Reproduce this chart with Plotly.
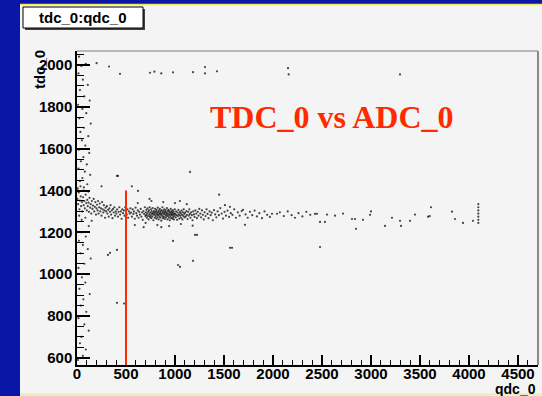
import plotly.graph_objects as go

# ---------------- data ----------------
# (qdc_0, tdc_0) pairs, grouped by region of the scatter
left_column = [(20,2040),(45,1995),(90,2005),(15,1960),(60,1930),(110,1905),(30,1880),(75,1850),
    (130,1830),(10,1810),(55,1790),(95,1770),(25,1745),(140,1720),(70,1700),(35,1680),(115,1660),
    (50,1640),(85,1615),(20,1595),(125,1580),(65,1560),(40,1540),(100,1525),(15,1505),(80,1490),
    (135,1475),(55,1460),(30,1445),(105,1430),(70,1415),(10,1400),(120,1230),(45,1200),(90,1180),
    (20,1160),(60,1140),(110,1120),(35,1100),(140,1075),(75,1050),(15,1030),(100,1000),(50,985),
    (85,960),(25,930),(130,905),(65,880),(40,850),(95,820),(15,790),(75,760),(120,730),(45,700),
    (30,670),(90,640),(60,610),(10,590)]

band_left = [(5,1360),(12,1335),(18,1390),(25,1310),(30,1352),(38,1372),(42,1325),(50,1345),
    (55,1300),(62,1368),(68,1330),(75,1350),(80,1315),(88,1380),(95,1340),(100,1305),
    (105,1355),(110,1325),(118,1342),(122,1298),(128,1365),(135,1318),(140,1335),(146,1290),
    (152,1350),(158,1312),(163,1328),(170,1360),(176,1300),(182,1322),(188,1345),(194,1285),(199,1315),
    (204,1332),(210,1305),(215,1350),(220,1290),(226,1320),(232,1338),(238,1300),(244,1315),
    (250,1280),(256,1345),(262,1310),(268,1295),(274,1330),(280,1305),(286,1270),(292,1318),(298,1300),
    (305,1325),(310,1290),(318,1308),(324,1275),(330,1315),(336,1298),(342,1330),(348,1285),
    (355,1305),(362,1268),(368,1312),(375,1295),(382,1320),(388,1280),(395,1300),
    (402,1290),(410,1310),(418,1275),(425,1298),(432,1320),(440,1285),(448,1300),(455,1265),
    (462,1310),(470,1292),(478,1305),(485,1280),(492,1320),(500,1295),(508,1285),(515,1310),
    (522,1270),(530,1300),(538,1290),(545,1315),
    (8,1410),(22,1280),(35,1420),(48,1260),(66,1400),(85,1270),(115,1395),(150,1255)]

cluster = [(552,1295),(560,1275),(568,1310),(575,1288),(582,1300),(590,1265),(598,1318),(605,1292),
    (612,1280),(620,1305),(628,1270),(635,1298),(642,1285),(650,1312),(657,1275),(664,1295),
    (671,1260),(678,1302),(685,1288),(692,1320),(698,1278),
    (702,1296),(705,1282),(709,1308),(712,1270),(716,1290),(720,1315),(723,1278),(727,1298),
    (730,1262),(734,1305),(737,1286),(741,1320),(744,1274),(748,1294),(751,1280),(755,1310),
    (758,1268),(762,1300),(765,1288),(769,1276),(772,1316),(776,1292),(779,1258),(783,1302),
    (786,1284),(790,1296),(793,1270),(797,1312),
    (800,1290),(803,1278),(806,1300),(809,1266),(812,1308),(815,1286),(818,1294),(821,1272),
    (824,1318),(827,1282),(830,1298),(833,1262),(836,1304),(839,1288),(842,1276),(845,1312),
    (848,1292),(851,1270),(854,1300),(857,1284),(860,1256),(863,1306),(866,1290),(869,1278),
    (872,1320),(875,1296),(878,1268),(881,1302),(884,1286),(887,1274),(890,1310),(893,1292),
    (896,1264),(899,1298),
    (902,1284),(905,1306),(908,1272),(911,1294),(914,1280),(917,1316),(920,1288),(923,1262),
    (926,1300),(929,1278),(932,1308),(935,1290),(938,1270),(941,1302),(944,1284),(947,1258),
    (950,1296),(953,1276),(956,1312),(959,1288),(962,1268),(965,1300),(968,1282),(971,1294),
    (974,1266),(977,1306),(980,1286),(983,1274),(986,1298),(989,1262),(992,1290),(995,1280),(998,1310),
    (1003,1288),(1008,1272),(1012,1300),(1017,1282),(1021,1260),(1026,1295),(1030,1278),(1035,1308),
    (1040,1286),(1044,1266),(1049,1298),(1053,1280),(1058,1292),(1062,1270),(1067,1304),(1071,1284),
    (1076,1262),(1080,1296),(1085,1278),(1089,1310),(1094,1288),(1098,1272),
    (1104,1294),(1110,1276),(1116,1302),(1122,1284),(1128,1264),(1134,1298),(1140,1280),(1146,1310),
    (1152,1288),(1158,1270),(1165,1296),(1172,1282),(1179,1258),(1186,1300),(1193,1286),(1200,1274),
    (1208,1305),(1216,1290),(1224,1268),(1232,1298),(1240,1280),(1248,1312),
    (620,1340),(700,1245),(760,1350),(820,1235),(880,1345),(940,1230),(1000,1340),(1060,1240),
    (1120,1335),(1180,1232),(680,1225),(860,1225),(1050,1350),(590,1235),(740,1360)]

band_mid = [(1258,1290),(1266,1272),(1275,1305),(1284,1284),(1293,1262),(1302,1296),(1312,1278),
    (1322,1310),(1332,1288),(1342,1268),(1353,1300),(1364,1282),(1375,1294),(1386,1258),(1398,1306),
    (1410,1286),(1422,1272),(1435,1300),(1448,1282),(1462,1316),(1476,1290),(1490,1266),(1505,1298),
    (1510,1330),(1520,1280),(1536,1304),(1552,1274),(1561,1322),(1569,1292),(1586,1284),(1604,1310),
    (1622,1270),(1641,1296),(1660,1280),(1680,1302),(1694,1308),(1714,1236),(1720,1286),(1742,1270),
    (1765,1298),(1788,1282),(1812,1304),(1836,1276),(1861,1292),(1887,1268),(1913,1300),(1940,1284),
    (1968,1274),(1990,1289),(2041,1289),(2070,1296),(2110,1278),(2150,1300),(2190,1282),(2224,1270),
    (2260,1292),(2300,1276),(2340,1298),(2380,1284),(2449,1289)]

band_right = [(2429,1288),(2480,1250),(2530,1250),(2551,1285),(2633,1280),(2714,1290),(2806,1264),
    (2837,1264),(2847,1217),(2918,1260),(2990,1284),(3000,1300),(3143,1231),(3214,1270),(3296,1255),
    (3306,1231),(3398,1255),(3449,1285),(3582,1275),(3600,1278),(3612,1320),(3827,1299),(3857,1264),
    (3939,1245),(4041,1255),
    (4095,1245),(4095,1260),(4095,1275),(4095,1290),(4095,1305),(4095,1320),(4095,1335)]

top_row = [(200,2009),(327,1993),(439,1958),(745,1963),(790,1968),(860,1960),(980,1965),(1184,1966),
    (1306,1960),(1306,1990),(1428,1970),(2153,1985),(2160,1955),(3296,1955)]

outliers = [(408,1470),(418,1470),(622,1398),(1153,1489),(1204,1188),(980,1159),(1582,1126),
    (1184,1064),(1051,1035),(1031,1044),(316,1092),(408,1116),(337,1102),(408,863),(480,860),
    (1561,1126),(1224,1188),(2480,1130),(560,1420),(250,1420),(1450,1380)]

cut_qdc = 500          # red cut line position
cut_tdc_top = 1400     # red cut line top

x_range = [0, 4704]
y_range = [566, 2067]

# ---------------- figure ----------------
W, H = 542, 396
L, R, T, B = 77, 538, 51, 365
PW, PH = R - L, B - T

def px(x):
    return (x - L) / PW

def py(y):
    return (B - y) / PH

pts = left_column + band_left + cluster + band_mid + band_right + top_row + outliers
qdc = [p[0] for p in pts]
tdc = [p[1] for p in pts]

BLUE = "#0a16a6"
PANEL = "#f4f4f4"
RED = "#ff2a00"

fig = go.Figure()
fig.add_trace(go.Scatter(x=qdc, y=tdc, mode="markers",
                         marker=dict(size=2.2, color="rgba(10,10,10,0.75)", line=dict(width=0)),
                         hoverinfo="x+y", showlegend=False))

shapes = [
    # light panel
    dict(type="rect", xref="paper", yref="paper", x0=px(20), x1=px(542), y0=py(396), y1=py(5),
         fillcolor=PANEL, line=dict(width=0), layer="below"),
    # yellow border lines
    dict(type="line", xref="paper", yref="paper", x0=px(20), x1=px(542), y0=py(4.5), y1=py(4.5),
         line=dict(color="#f0e860", width=1.5)),
    dict(type="line", xref="paper", yref="paper", x0=px(20), x1=px(542), y0=py(394.5), y1=py(394.5),
         line=dict(color="#e6eab8", width=2)),
    # top and right frame
    dict(type="line", xref="paper", yref="paper", x0=0, x1=1, y0=1, y1=1,
         line=dict(color="#b8b8b8", width=2)),
    dict(type="line", xref="paper", yref="paper", x0=1, x1=1, y0=0, y1=1,
         line=dict(color="#8a8a8a", width=2)),
    # title box shadow and box
    dict(type="rect", xref="paper", yref="paper", x0=px(25), x1=px(145), y0=py(30), y1=py(9),
         fillcolor="#404040", line=dict(width=0)),
    dict(type="rect", xref="paper", yref="paper", x0=px(23), x1=px(143), y0=py(28), y1=py(7),
         fillcolor="white", line=dict(color="black", width=1)),
    # red cut line
    dict(type="line", xref="x", yref="y", x0=cut_qdc, x1=cut_qdc, y0=y_range[0], y1=cut_tdc_top,
         line=dict(color=RED, width=2)),
]

bold = dict(family="Liberation Sans", size=15, color="black", weight="bold")

annotations = [
    dict(text="tdc_0:qdc_0", xref="paper", yref="paper", x=px(83), y=py(17.5),
         showarrow=False, font=bold, xanchor="center", yanchor="middle"),
    dict(text="tdc_0", xref="paper", yref="paper", x=px(39), y=py(70), textangle=-90,
         showarrow=False, font=bold, xanchor="center", yanchor="middle"),
    dict(text="qdc_0", xref="paper", yref="paper", x=px(538), y=py(389),
         showarrow=False, xanchor="right", yanchor="middle",
         font=dict(family="Liberation Sans", size=14, color="black", weight="bold")),
    dict(text="TDC_0 vs ADC_0", xref="paper", yref="paper", x=px(332), y=py(117),
         showarrow=False, xanchor="center", yanchor="middle",
         font=dict(family="Liberation Serif", size=32, color=RED, weight="bold")),
]

fig.update_layout(
    width=W, height=H,
    margin=dict(l=L, r=W - R, t=T, b=H - B, pad=0),
    paper_bgcolor=BLUE, plot_bgcolor=PANEL,
    shapes=shapes, annotations=annotations,
    showlegend=False,
)

axis_common = dict(showgrid=False, zeroline=False, showline=True, linecolor="black", linewidth=1.5,
                   ticks="inside", tickcolor="black", tickwidth=1.5, tickfont=bold, automargin=False)

fig.update_xaxes(range=x_range, tick0=0, dtick=500, ticklen=10, ticklabelstandoff=-6,
                 minor=dict(dtick=100, ticks="inside", ticklen=5, tickcolor="black", tickwidth=1),
                 **axis_common)
fig.update_yaxes(range=y_range, tick0=0, dtick=200, ticklen=13,
                 minor=dict(dtick=50, ticks="inside", ticklen=7, tickcolor="black", tickwidth=1),
                 **axis_common)

fig.write_html("out.html", config={"displayModeBar": False},
               post_script="document.body.style.margin='0';")
